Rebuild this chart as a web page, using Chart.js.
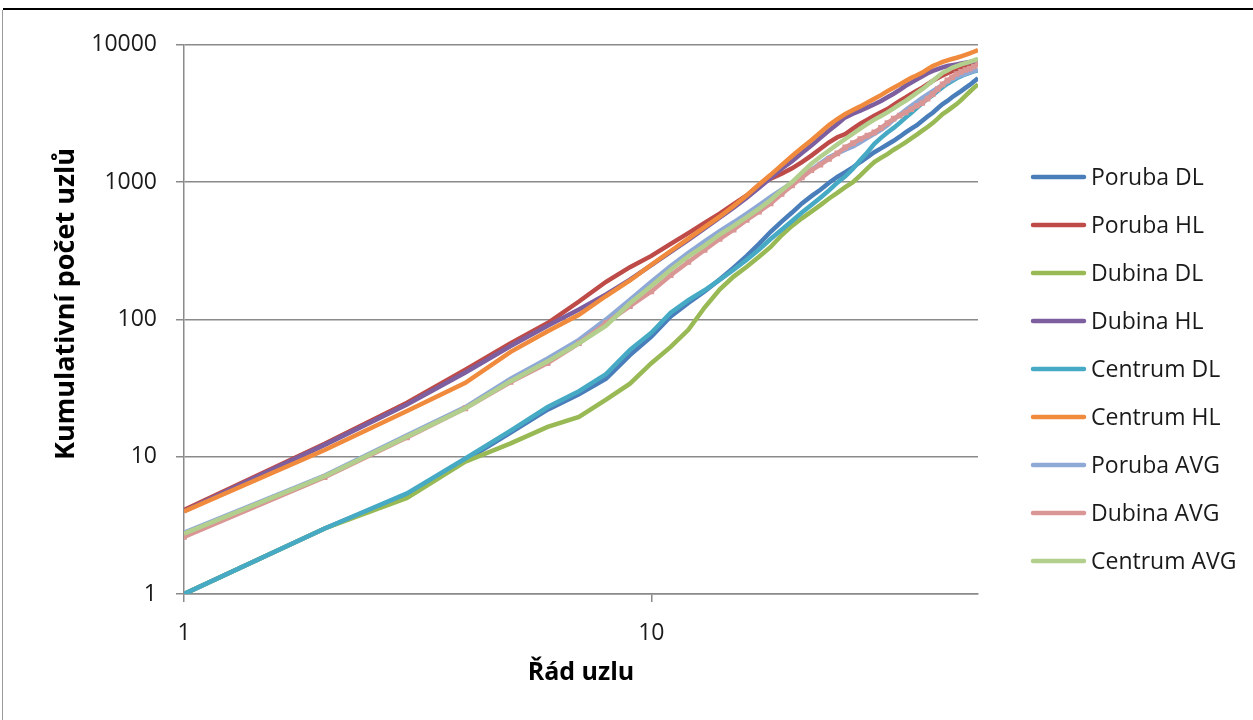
<!DOCTYPE html>
<html lang="cs">
<head>
<meta charset="UTF-8">
<title>Kumulativní počet uzlů</title>
<script src="https://cdn.jsdelivr.net/npm/chart.js"></script>
<style>
  body { margin: 0; background: #fff; width: 1253px; height: 720px; overflow: hidden; position: relative; }
  .topline { position: absolute; left: 3px; top: 8px; width: 1250px; height: 2px; background: #000; }
  .leftline { position: absolute; left: 2px; top: 10px; width: 1px; height: 710px; background: #9a9a9a; }
  .box { position: absolute; left: 5px; top: 12px; width: 1245px; height: 706px; }
</style>
</head>
<body>
<div class="topline"></div>
<div class="leftline"></div>
<div class="box"><canvas id="graf"></canvas></div>
<script>
  // rad uzlu (osa x)
  var rady = [1, 2, 3, 4, 5, 6, 7, 8, 9, 10, 11, 12, 13, 14, 15, 16, 17, 18, 19, 20,
    21, 22, 23, 24, 25, 26, 27, 28, 29, 30, 31, 32, 33, 34, 35, 36, 37, 38, 39, 40,
    41, 42, 43, 44, 45, 46, 47, 48, 49, 50];

  var porubaDL = [1, 3.0, 5.3, 9.4, 15, 22, 28.5, 37, 55, 75, 105, 132, 160, 195, 238, 290, 355, 435, 515, 600,
    700, 790, 880, 990, 1090, 1180, 1280, 1400, 1520, 1650, 1760, 1880, 2000, 2140, 2300, 2450, 2600, 2800, 3000, 3200,
    3450, 3700, 3900, 4150, 4370, 4600, 4850, 5100, 5400, 5700];
  var porubaHL = [4.1, 12.4, 24.7, 43, 67, 94, 135, 188, 240, 290, 355, 425, 505, 590, 690, 800, 950, 1060, 1150, 1260,
    1400, 1560, 1750, 1950, 2120, 2240, 2450, 2660, 2850, 3040, 3220, 3400, 3650, 3900, 4130, 4380, 4630, 4880, 5170, 5460,
    5720, 5990, 6200, 6420, 6630, 6800, 6950, 7100, 7250, 7400];
  var dubinaDL = [1, 3.0, 5.0, 9.2, 12.5, 16.5, 19.5, 26, 34, 48, 63, 84, 122, 165, 205, 242, 286, 337, 410, 480,
    545, 610, 680, 760, 835, 920, 1000, 1120, 1260, 1400, 1500, 1600, 1720, 1830, 1950, 2080, 2220, 2370, 2520, 2690,
    2900, 3130, 3300, 3500, 3700, 3950, 4250, 4550, 4850, 5150];
  var dubinaHL = [4.0, 12.2, 24, 41, 64, 90, 118, 152, 195, 248, 310, 380, 460, 550, 650, 770, 910, 1070, 1250, 1420,
    1630, 1845, 2100, 2370, 2650, 2960, 3150, 3310, 3500, 3690, 3900, 4150, 4400, 4700, 5030, 5300, 5600, 5900, 6200, 6450,
    6650, 6850, 7000, 7100, 7200, 7300, 7400, 7500, 7600, 7700];
  var centrumDL = [1, 3.0, 5.4, 9.7, 15.5, 23, 30, 40, 60, 80, 112, 138, 163, 194, 230, 272, 322, 385, 450, 520,
    600, 680, 770, 870, 990, 1100, 1250, 1450, 1650, 1900, 2100, 2300, 2480, 2700, 2950, 3200, 3480, 3770, 4050, 4300,
    4600, 4900, 5200, 5450, 5700, 5900, 6100, 6250, 6400, 6500];
  var centrumHL = [4.0, 11.2, 21.5, 34.5, 58, 82, 108, 148, 192, 250, 315, 388, 470, 560, 670, 800, 960, 1130, 1330, 1550,
    1780, 2020, 2300, 2600, 2880, 3130, 3350, 3560, 3800, 4050, 4300, 4600, 4870, 5150, 5450, 5750, 6000, 6270, 6650, 7000,
    7250, 7500, 7700, 7880, 8050, 8250, 8450, 8650, 8900, 9150];
  var porubaAVG = [2.8, 7.3, 14.3, 23, 37, 52, 71, 100, 139, 188, 245, 305, 370, 440, 510, 590, 680, 780, 880, 990,
    1100, 1230, 1370, 1520, 1620, 1720, 1820, 1950, 2100, 2250, 2400, 2600, 2850, 3100, 3350, 3600, 3850, 4100, 4350, 4600,
    4850, 5100, 5350, 5600, 5800, 6000, 6150, 6300, 6450, 6600];
  var dubinaAVG = [2.6, 7.1, 13.8, 22.5, 35, 48, 67, 94, 125, 160, 210, 262, 320, 385, 450, 530, 610, 700, 820, 946,
    1080, 1220, 1340, 1475, 1620, 1790, 1920, 2060, 2180, 2300, 2480, 2690, 2900, 3050, 3214, 3400, 3600, 3770, 4050, 4370,
    4750, 5155, 5500, 5800, 6130, 6350, 6550, 6700, 6950, 7200];
  var centrumAVG = [2.75, 7.2, 14, 22.5, 35.5, 49.5, 67, 90, 131, 175, 230, 288, 345, 415, 480, 555, 640, 740, 870, 1000,
    1170, 1360, 1530, 1700, 1880, 2060, 2250, 2450, 2650, 2850, 3030, 3220, 3450, 3680, 3910, 4180, 4460, 4750, 5100, 5460,
    5850, 6250, 6500, 6800, 7000, 7200, 7350, 7500, 7700, 7900];

  var nazvy = ['Poruba DL', 'Poruba HL', 'Dubina DL', 'Dubina HL', 'Centrum DL', 'Centrum HL',
    'Poruba AVG', 'Dubina AVG', 'Centrum AVG'];
  var hodnoty = [porubaDL, porubaHL, dubinaDL, dubinaHL, centrumDL, centrumHL, porubaAVG, dubinaAVG, centrumAVG];
  var barvy = ['#4a7ebb', '#be4b48', '#98b954', '#7d5fa0', '#46aac5', '#f08a3c', '#8fa9d6', '#d99694', '#b3cf8e'];

  var yTicks = [1, 10, 100, 1000, 10000];
  var xTicks = [1, 10];
  var yNadpis = 'Kumulativní počet uzlů';

  Chart.defaults.font.family = "'Open Sans', sans-serif";
  Chart.defaults.color = '#1a1a1a';

  var datasets = [];
  for (var i = 0; i < nazvy.length; i++) {
    var pink = nazvy[i] === 'Dubina AVG';
    datasets.push({
      label: nazvy[i],
      data: hodnoty[i],
      borderColor: barvy[i],
      backgroundColor: barvy[i],
      borderWidth: 4.5,
      tension: 0,
      pointStyle: pink ? 'rect' : 'circle',
      pointRadius: pink ? 4 : 0,
      pointBorderWidth: 0,
      order: nazvy.length - 1 - i
    });
  }

  // legenda vpravo + svisly nadpis osy y
  var legenda = {
    id: 'legenda',
    afterDraw: function (chart) {
      var ctx = chart.ctx;
      ctx.save();
      ctx.font = "23px 'Open Sans', sans-serif";
      ctx.textBaseline = 'middle';
      ctx.textAlign = 'left';
      for (var i = 0; i < chart.data.datasets.length; i++) {
        var ds = chart.data.datasets[i];
        var y = 165 + i * 48;
        ctx.strokeStyle = ds.borderColor;
        ctx.lineWidth = 4.5;
        ctx.lineCap = 'round';
        ctx.beginPath();
        ctx.moveTo(1028, y);
        ctx.lineTo(1079, y);
        ctx.stroke();
        ctx.fillStyle = '#1a1a1a';
        ctx.fillText(ds.label, 1086, y + 1);
      }
      ctx.translate(61, 292);
      ctx.rotate(-Math.PI / 2);
      ctx.textAlign = 'center';
      ctx.fillStyle = '#000';
      ctx.font = "bold 27px 'Open Sans', sans-serif";
      ctx.fillText(yNadpis, 0, 0);
      ctx.restore();
    }
  };

  new Chart(document.getElementById('graf'), {
    type: 'line',
    data: { labels: rady, datasets: datasets },
    plugins: [legenda],
    options: {
      responsive: true,
      maintainAspectRatio: false,
      animation: false,
      layout: { padding: { left: 0, top: 30, right: 272, bottom: 0 } },
      plugins: { legend: { display: false }, tooltip: { enabled: false } },
      scales: {
        x: {
          type: 'logarithmic',
          min: 1,
          max: 50,
          afterBuildTicks: function (s) { s.ticks = xTicks.map(function (v) { return { value: v }; }); },
          afterFit: function (s) { s.height = 124; },
          ticks: {
            padding: 18,
            font: { size: 23 },
            color: '#1a1a1a',
            maxRotation: 0,
            callback: function (v) { return String(v); }
          },
          grid: { drawOnChartArea: false, drawTicks: true, tickLength: 8, color: '#8a8a8a', lineWidth: 1.5 },
          border: { display: true, color: '#8a8a8a', width: 1.5 },
          title: {
            display: true,
            text: 'Řád uzlu',
            font: { size: 25, weight: 'bold' },
            color: '#000',
            padding: { top: 0, bottom: 30 }
          }
        },
        y: {
          type: 'logarithmic',
          min: 1,
          max: 10000,
          afterBuildTicks: function (s) { s.ticks = yTicks.map(function (v) { return { value: v }; }); },
          afterFit: function (s) { s.width = 179; },
          ticks: {
            padding: 19,
            font: { size: 23 },
            color: '#1a1a1a',
            callback: function (v) { return String(v); }
          },
          grid: { drawOnChartArea: true, drawTicks: true, tickLength: 8, color: '#8a8a8a', lineWidth: 1.5 },
          border: { display: true, color: '#8a8a8a', width: 1.5 },
          title: { display: false }
        }
      }
    }
  });
</script>
</body>
</html>
